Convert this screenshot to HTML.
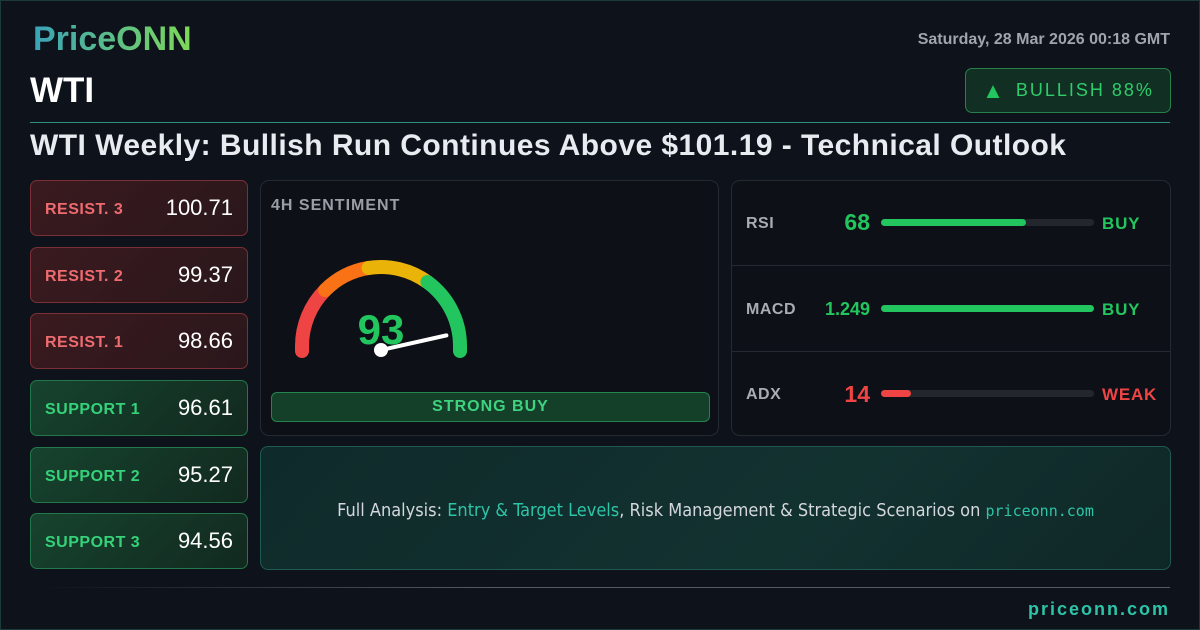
<!DOCTYPE html>
<html><head><meta charset="utf-8"><style>
*{margin:0;padding:0;box-sizing:border-box}
body{width:1200px;height:630px;background:#0e131b;font-family:"Liberation Sans","DejaVu Sans",sans-serif;position:relative;overflow:hidden}
.frame{position:absolute;left:0;top:0;width:1200px;height:630px;border:1px solid #1d3a3a;}
.abs{position:absolute}
.lvl{position:absolute;left:30px;width:218px;height:56px;border-radius:7px;display:flex;align-items:center;justify-content:space-between;padding:0 14px 0 14px}
.res{background:linear-gradient(135deg,#3a1a1f,#2a171b);border:1px solid #7a3036}
.sup{background:linear-gradient(135deg,#16432e,#12291f);border:1px solid #22784a}
.lvl .l{font-weight:bold;font-size:16px;letter-spacing:.5px;padding-top:3px}
.res .l{color:#ee6b6f}.sup .l{color:#35d27a}
.lvl .v{color:#fff;font-size:22px}
.panel{position:absolute;background:#0d1117;border:1px solid #232a33;border-radius:9px}
.row{position:absolute;left:0;width:438px;height:85px}
.row .n{position:absolute;left:14px;top:34px;color:#a9adb3;font-weight:bold;font-size:16px;letter-spacing:.5px}
.row .val{position:absolute;right:300px;font-weight:bold;text-align:right}
.track{position:absolute;left:149px;width:213px;height:7px;border-radius:4px;background:#23262c}
.fill{position:absolute;left:0;top:0;height:7px;border-radius:4px}
.sig{position:absolute;left:370px;font-weight:bold;font-size:17px;letter-spacing:.8px}
</style></head><body>
<div class="frame"></div>
<div class="abs" style="left:33px;top:20px;font-size:34px;font-weight:bold;background:linear-gradient(90deg,#3aa3b8,#7ed957);-webkit-background-clip:text;color:transparent">PriceONN</div>
<div class="abs" style="left:30px;top:71px;font-size:35px;font-weight:bold;color:#fff">WTI</div>
<div class="abs" style="right:30px;top:31px;font-size:16px;font-weight:bold;color:#a0a4ab">Saturday, 28 Mar 2026 00:18 GMT</div>
<div class="abs" style="left:965px;top:68px;width:206px;height:45px;border:1.5px solid #26804a;border-radius:7px;background:#113023;color:#2ecc6a;font-size:18px;letter-spacing:2px;display:flex;align-items:center;justify-content:center"><span style="color:#22c55e;margin-right:10px;font-size:22px">▲</span>BULLISH 88%</div>
<div class="abs" style="left:30px;top:122px;width:1140px;height:1px;background:#2f8f80"></div>
<div class="abs" style="left:30px;top:129px;font-size:30px;letter-spacing:0.45px;font-weight:bold;color:#e8ebf0;white-space:nowrap">WTI Weekly: Bullish Run Continues Above $101.19 - Technical Outlook</div>

<div class="lvl res" style="top:180px"><span class="l">RESIST. 3</span><span class="v">100.71</span></div>
<div class="lvl res" style="top:247px"><span class="l">RESIST. 2</span><span class="v">99.37</span></div>
<div class="lvl res" style="top:313px"><span class="l">RESIST. 1</span><span class="v">98.66</span></div>
<div class="lvl sup" style="top:380px"><span class="l">SUPPORT 1</span><span class="v">96.61</span></div>
<div class="lvl sup" style="top:447px"><span class="l">SUPPORT 2</span><span class="v">95.27</span></div>
<div class="lvl sup" style="top:513px"><span class="l">SUPPORT 3</span><span class="v">94.56</span></div>

<div class="panel" style="left:260px;top:180px;width:459px;height:256px">
 <div class="abs" style="left:10px;top:16px;color:#9a9ea5;font-weight:bold;font-size:16px;letter-spacing:1px">4H SENTIMENT</div>
 <svg class="abs" style="left:0;top:0" width="459" height="256">
  <g id="arcs" fill="none" stroke-width="14" stroke-linecap="round"></g>
  <text x="120" y="163" text-anchor="middle" font-family="Liberation Sans" font-weight="bold" font-size="42" fill="#22c55e">93</text>
  <line id="needle" stroke="#fff" stroke-width="4" stroke-linecap="round"/>
  <circle cx="120" cy="169" r="7" fill="#fff"/>
 </svg>
 <div class="abs" style="left:10px;top:211px;width:439px;height:30px;border:1px solid #25834e;border-radius:6px;background:#14402a;color:#3fd27f;font-weight:bold;font-size:16px;letter-spacing:1px;display:flex;align-items:center;justify-content:center">STRONG BUY</div>
</div>

<div class="panel" style="left:731px;top:180px;width:440px;height:256px">
 <div class="row" style="top:0"><span class="n">RSI</span><span class="val" style="top:28px;font-size:23px;color:#22c55e">68</span><div class="track" style="top:38px"><div class="fill" style="width:68%;background:#22c55e"></div></div><span class="sig" style="top:33px;color:#22c55e">BUY</span></div>
 <div class="abs" style="left:0;top:84px;width:438px;height:1px;background:#232a33"></div>
 <div class="row" style="top:86px"><span class="n">MACD</span><span class="val" style="top:32px;font-size:18px;color:#22c55e">1.249</span><div class="track" style="top:38px"><div class="fill" style="width:100%;background:#22c55e"></div></div><span class="sig" style="top:33px;color:#22c55e">BUY</span></div>
 <div class="abs" style="left:0;top:170px;width:438px;height:1px;background:#232a33"></div>
 <div class="row" style="top:171px"><span class="n">ADX</span><span class="val" style="top:29px;font-size:23px;color:#ef4444">14</span><div class="track" style="top:38px"><div class="fill" style="width:14%;background:#ef4444"></div></div><span class="sig" style="top:33px;color:#ef4444">WEAK</span></div>
</div>

<div class="abs" style="left:260px;top:446px;width:911px;height:124px;border:1px solid #1f5a50;border-radius:8px;background:linear-gradient(135deg,#0f2a2a,#123230 60%,#0f2727);display:flex;align-items:center;justify-content:center;font-family:'DejaVu Sans Condensed','Liberation Sans Narrow','Liberation Sans',sans-serif;font-size:18px;color:#d4d7dc;padding-top:4px">
 <span>Full Analysis:&nbsp;<span style="color:#2ec4a8">Entry &amp; Target Levels</span>, Risk Management &amp; Strategic Scenarios on <span style="color:#2ec4a8;font-family:'DejaVu Sans Mono',monospace;font-size:15px">priceonn.com</span></span>
</div>
<div class="abs" style="left:40px;top:587px;width:1130px;height:1px;background:linear-gradient(90deg,transparent,#555b63 40%,#555b63)"></div>
<div class="abs" style="right:30px;top:599px;font-size:18px;font-weight:bold;letter-spacing:2px;color:#2ec4a8">priceonn.com</div>

<script>
const gaugeValue=93;
const segEnds=[0,25,45,70,100];
const segColors=['#ef4444','#f97316','#eab308','#22c55e'];
const cx=120,cy=165,r=79;
function pt(p,rad){const a=Math.PI*(1-p/100);return [cx+rad*Math.cos(a),cy-rad*Math.sin(a)];}
const g=document.getElementById('arcs');
for(let i=0;i<segColors.length;i++){
 const [x1,y1]=pt(segEnds[i],r),[x2,y2]=pt(segEnds[i+1],r);
 const p=document.createElementNS('http://www.w3.org/2000/svg','path');
 p.setAttribute('d',`M${x1} ${y1+(i==0?5:0)} ${i==0?`L${x1} ${y1}`:''} A${r} ${r} 0 0 1 ${x2} ${y2}${i==3?` L${x2} ${y2+5}`:''}`);
 p.setAttribute('stroke',segColors[i]);
 
 
 g.appendChild(p);
}
const n=document.getElementById('needle');
const a=Math.PI*(1-gaugeValue/100);
n.setAttribute('x1',120);n.setAttribute('y1',169);
n.setAttribute('x2',120+67*Math.cos(a));n.setAttribute('y2',169-67*Math.sin(a));


</script>
</body></html>
